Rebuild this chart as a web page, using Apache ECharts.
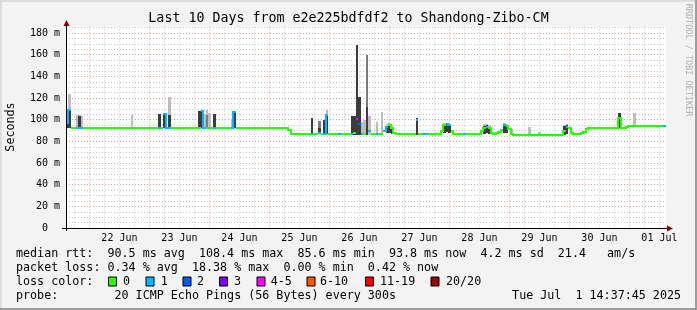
<!DOCTYPE html>
<html><head><meta charset="utf-8">
<script src="https://cdn.jsdelivr.net/npm/echarts@6/dist/echarts.min.js"></script>
<style>html,body{margin:0;padding:0;background:#f3f3f3}#c{width:697px;height:310px}</style>
</head><body><div id="c"></div>
<script>
// time axis in hours relative to 22 Jun 00:00; window = 21 Jun 14:37:45 .. 01 Jul 14:37:45
const T_START = -9.3708;
const T_END = 230.6292;
const dayLabels = ['22 Jun','23 Jun','24 Jun','25 Jun','26 Jun','27 Jun','28 Jun','29 Jun','30 Jun','01 Jul'];
const yTickValues = [0,20,40,60,80,100,120,140,160,180];

// hourly median rtt (ms), first value at t = -9
const medianStart = -9;
const median = [
  97,109,92,92,92,92,92,92,92,92,92,92,
  92,92,92,92,92,92,92,92,92,92,92,92,
  92,92,92,92,92,92,92,92,92,92,92,92,
  92,92,92,105,92,92,92,92,92,92,92,92,
  92,92,92,92,92,92,108,92,92,92,92,92,
  92,92,92,92,92,92,92,107,92,92,92,92,
  92,92,92,92,92,92,92,92,92,92,92,92,
  92,92,92,92,92,90.5,86.5,86.5,86.5,86.5,86.5,86.5,
  86.5,86.5,87,86.5,86.5,87.7,86.5,87,104,86.5,86.5,86.5,
  86.5,86.5,86.5,86.5,86.5,86.5,87,88,100.5,96,87,87,
  103,89.5,86.5,86.5,86.7,86.5,86.5,90,93,95,92,87.5,
  86.5,86.5,86.5,86.5,86.5,86.5,86.5,86.5,100,86.5,86.5,86.8,
  86.8,86.5,86.5,86.5,86.5,86.5,90,95,96,95,90,87,
  86.5,86.5,86.5,86.5,86.5,86.5,86.5,86.5,86.5,86.5,90,92,
  93,92,88,87,88,89,90.5,95.5,94.5,91,87,86.3,
  86.3,86.3,86.3,86.3,86.3,86.3,86.3,86.3,86.3,86.3,86.3,86.3,
  86.3,86.3,86.3,86.3,86.3,86.3,86.3,90,93,92,87.5,86.5,
  86.5,86.5,87.5,89,91.5,92.5,92.7,92.7,92.7,92.7,92.7,92.7,
  92.7,92.7,92.7,92.7,92.7,101.5,92.5,92.5,93,94,94,94,
  94,94,94,94,94,94,94,94,94,94,94,94
];

// hours with lost pings (of 20), all other hours lost none
const lossT = [-9,-8,-5,-4,-3,28,30,31,32,45,46,50,57,58,89,92,94,95,100,105,107,108,109,111,112,115,118,119,131,134,135,143,144,150,159,166,191,230];
const lossN = [ 1, 1, 1, 1, 1, 1, 1, 1, 1, 1, 1, 1, 1, 1, 1, 1, 1, 1,  1,  1,  4,  2,  1,  3,  1,  1,  1,  1,  1,  1,  1,  1,  1,  1,  1,  1,  1,  1];

// smoke (ping spread) per hour: low, top of dense part, top of medium part, top of sparse part
const smokeT    = [-9,-8,-5,-4,-3,17,28,30,32,44,45,46,47,48,50,57,58,89,92,94,95,105,106,107,108,109,110,111,112,115,117,119,120,121,131,142,143,144,158,159,160,166,167,169,176,180,190,191,212,218];
const smokeLo   = [92,92,92,92,92,92,92,92,92,92,92,92,92,92,92,92,92,86.5,86.5,86.5,86.5,86,86,86,86,86,86,86,86,86,86,88,88,87,86,88,89,88,87,88,87,88,88,86,86,86,86,87,92,93];
const smokeDark = [96,109,92,103,92,92,105,106,104,108,108,92,92,92,105,92,107,102,92,100,104,103,103,169,121,86,86,112,86,86,86,94,96,93,102,95,96,95,94,95,93,96,94,86,86,86,94,95,106,93];
const smokeMid  = [96,109,92,103,92,92,105,106,104,108,108,92,104,92,105,92,107,102,99,100,104,103,103,169,121,86,86,160,86,86,86,94,96,93,102,95,96,95,94,95,93,96,94,86,86,86,94,95,106,93];
const smokeHi   = [96,124,104,104,103,104,105,106,121,108,108,105,109,106,105,101,107,102,99,100,109,103,103,169,121,98,100,160,103,98,107,96,97,95,102,97,97,96,96,96,95,97,96,91,93.5,89,95,96,106,106];

const lossLabels = ['0','1','2','3','4-5','6-10','11-19','20/20'];
const lossColors = ['#26ff00','#00b8ff','#0059ff','#7e00ff','#ff00ff','#ff5500','#ff0000','#a10000'];
function lossClass(n){ if(n<=0) return 0; if(n===1) return 1; if(n===2) return 2; if(n===3) return 3; if(n<=5) return 4; if(n<=10) return 5; if(n<=19) return 6; return 7; }

const FONT = 'DejaVu Sans Mono';
const GRID = {left:66, top:26.5, width:600, height:201.5};

const lossMap = {};
lossT.forEach((t,i)=>{ lossMap[t]=lossN[i]; });
const medData = median.map((m,i)=>{
  const t = medianStart + i;
  const n = lossMap[t] || 0;
  const pm = i>0 ? median[i-1] : NaN;
  const pn = i>0 ? (lossMap[t-1]||0) : 0;
  return [t, m, lossClass(n), pm, lossClass(pn)];
});
const smokeData = smokeT.map((t,i)=>[t, smokeLo[i], smokeDark[i], smokeMid[i], smokeHi[i]]);

const midnights = [], sixHours = [], noons = [];
for (let h = -6; h <= T_END; h += 6) { if (h < T_START) continue; if (h % 24 === 0) midnights.push(h); else sixHours.push(h); }
for (let d = 0; d < dayLabels.length; d++) noons.push(12 + 24*d);
const yMinor = [];
for (let v = 5; v <= 185; v += 5) if (v % 20 !== 0) yMinor.push(v);

const R = Math.round;
const chart = echarts.init(document.getElementById('c'), null, {renderer:'canvas'});
const option = {
  animation:false,
  backgroundColor:'#f3f3f3',
  grid:{left:GRID.left, top:GRID.top, width:GRID.width, height:GRID.height, show:true, backgroundColor:'#ffffff', borderWidth:0},
  xAxis:[
    {type:'value', position:'bottom', min:T_START, max:T_END, axisLine:{show:false}, axisLabel:{show:false},
     axisTick:{show:false, customValues:sixHours},
     splitLine:{show:true, lineStyle:{color:'#c8c8c8', width:1, type:[1,2]}}},
    {type:'value', position:'bottom', min:T_START, max:T_END, axisLine:{show:false},
     axisTick:{show:false, customValues:midnights},
     splitLine:{show:true, lineStyle:{color:'#f09a9a', width:1, type:[1,2]}},
     axisLabel:{customValues:noons, formatter:v=>dayLabels[Math.round((v-12)/24)], fontFamily:FONT, fontSize:10, color:'#000', margin:5}}
  ],
  yAxis:[
    {type:'value', position:'left', min:0, max:186, axisLine:{show:false}, axisLabel:{show:false},
     axisTick:{show:false, customValues:yMinor},
     splitLine:{show:true, lineStyle:{color:'#c8c8c8', width:1, type:[1,2]}}},
    {type:'value', position:'left', min:0, max:186, axisLine:{show:false},
     axisTick:{show:false, customValues:yTickValues},
     splitLine:{show:true, lineStyle:{color:'#f09a9a', width:1, type:[1,2]}},
     axisLabel:{customValues:yTickValues, formatter:v=> v===0 ? '0  ' : v+' m', fontFamily:FONT, fontSize:10, color:'#000', margin:6}}
  ],
  series:[
    {type:'custom', xAxisIndex:1, yAxisIndex:1, clip:true, data:smokeData,
     renderItem:function(params, api){
       const t=api.value(0), lo=api.value(1), dk=api.value(2), md=api.value(3), hi=api.value(4);
       const ch=[];
       const rect=(a,b,col)=>{ if(b<=a) return; const p0=api.coord([t-0.5,b]); const p1=api.coord([t+0.5,a]);
         const x0=R(p0[0]), x1=Math.max(R(p1[0]), x0+2), y0=R(p0[1]), y1=R(p1[1]);
         ch.push({type:'rect', shape:{x:x0, y:y0, width:x1-x0, height:y1-y0}, style:{fill:col}}); };
       rect(md,hi,'#bdbdbd'); rect(dk,md,'#7a7a7a'); rect(lo,dk,'#3c3c3c');
       return {type:'group', children:ch};
     }},
    {type:'custom', xAxisIndex:1, yAxisIndex:1, clip:true, data:medData,
     renderItem:function(params, api){
       const t=api.value(0), m=api.value(1), c=api.value(2), pm=api.value(3), pc=api.value(4);
       const col=lossColors[c];
       const a=api.coord([t-0.5,m]), b=api.coord([t+0.5,m]);
       const ax=R(a[0]), bx=Math.max(R(b[0]), ax+2), y=R(a[1]);
       const ch=[{type:'line', shape:{x1:ax,y1:y,x2:bx,y2:y}, style:{stroke:col, lineWidth:2}}];
       if(!isNaN(pm) && pc===c && pm!==m){ const q=api.coord([t-0.5,pm]); const qy=R(q[1]);
         if (qy!==y) ch.push({type:'rect', shape:{x:ax-1, y:Math.min(qy,y)-1, width:2, height:Math.abs(qy-y)+2}, style:{fill:col}}); }
       return {type:'group', children:ch};
     }}
  ],
  graphic:[]
};

const g = [];
const gx0 = GRID.left, gy0 = GRID.top + GRID.height, gx1 = GRID.left + GRID.width;
// frame
g.push({type:'rect', shape:{x:0,y:0,width:697,height:2}, style:{fill:'#dcdcdc'}, silent:true});
g.push({type:'rect', shape:{x:0,y:0,width:2,height:310}, style:{fill:'#dcdcdc'}, silent:true});
g.push({type:'rect', shape:{x:0,y:308,width:697,height:2}, style:{fill:'#9c9c9c'}, silent:true});
g.push({type:'rect', shape:{x:695,y:0,width:2,height:310}, style:{fill:'#9c9c9c'}, silent:true});
// axes
g.push({type:'line', shape:{x1:gx0-4, y1:gy0+0.5, x2:gx1+3, y2:gy0+0.5}, style:{stroke:'#000', lineWidth:1}, z:10});
g.push({type:'line', shape:{x1:gx0+0.5, y1:gy0+3, x2:gx0+0.5, y2:GRID.top-3}, style:{stroke:'#000', lineWidth:1}, z:10});
g.push({type:'polygon', shape:{points:[[gx1+1,gy0-2.5],[gx1+7,gy0+0.5],[gx1+1,gy0+3.5]]}, style:{fill:'#8b0000'}, z:10});
g.push({type:'polygon', shape:{points:[[gx0-2.5,GRID.top-0.5],[gx0+0.5,GRID.top-6.5],[gx0+3.5,GRID.top-0.5]]}, style:{fill:'#8b0000'}, z:10});
// title
g.push({type:'text', x:348.5, y:19, style:{text:'Last 10 Days from e2e225bdfdf2 to Shandong-Zibo-CM', font:'13.3px "DejaVu Sans Mono"', fill:'#000', textAlign:'center', textVerticalAlign:'middle'}});
// y axis name
g.push({type:'text', x:11, y:127, rotation:Math.PI/2, style:{text:'Seconds', font:'11.7px "DejaVu Sans Mono"', fill:'#000', textAlign:'center', textVerticalAlign:'middle'}});
// watermark
g.push({type:'text', x:688, y:60, rotation:-Math.PI/2, style:{text:'RRDTOOL / TOBI OETIKER', font:'8.5px "DejaVu Sans Mono"', fill:'#b0b0b0', textAlign:'center', textVerticalAlign:'middle'}});
// legend rows
const LF = '11.7px "DejaVu Sans Mono"';
g.push({type:'text', x:16, y:254, style:{text:'median rtt:  90.5 ms avg  108.4 ms max  85.6 ms min  93.8 ms now  4.2 ms sd  21.4   am/s', font:LF, fill:'#000', textVerticalAlign:'middle'}});
g.push({type:'text', x:16, y:268, style:{text:'packet loss: 0.34 % avg  18.38 % max  0.00 % min  0.42 % now', font:LF, fill:'#000', textVerticalAlign:'middle'}});
g.push({type:'text', x:16, y:282, style:{text:'loss color:', font:LF, fill:'#000', textVerticalAlign:'middle'}});
const boxX = [108.5,146,183,219.5,257,307,365.5,431];
const labX = [123,160.7,197,234,270.7,320,380,446];
lossLabels.forEach((l,i)=>{
  g.push({type:'rect', shape:{x:boxX[i], y:277, width:8, height:9}, style:{fill:lossColors[i], stroke:'#000', lineWidth:1}});
  g.push({type:'text', x:labX[i], y:282, style:{text:l, font:LF, fill:'#000', textVerticalAlign:'middle'}});
});
g.push({type:'text', x:16, y:296, style:{text:'probe:        20 ICMP Echo Pings (56 Bytes) every 300s', font:LF, fill:'#000', textVerticalAlign:'middle'}});
g.push({type:'text', x:681, y:296, style:{text:'Tue Jul  1 14:37:45 2025', font:LF, fill:'#000', textAlign:'right', textVerticalAlign:'middle'}});
option.graphic = g;
chart.setOption(option);
</script></body></html>
